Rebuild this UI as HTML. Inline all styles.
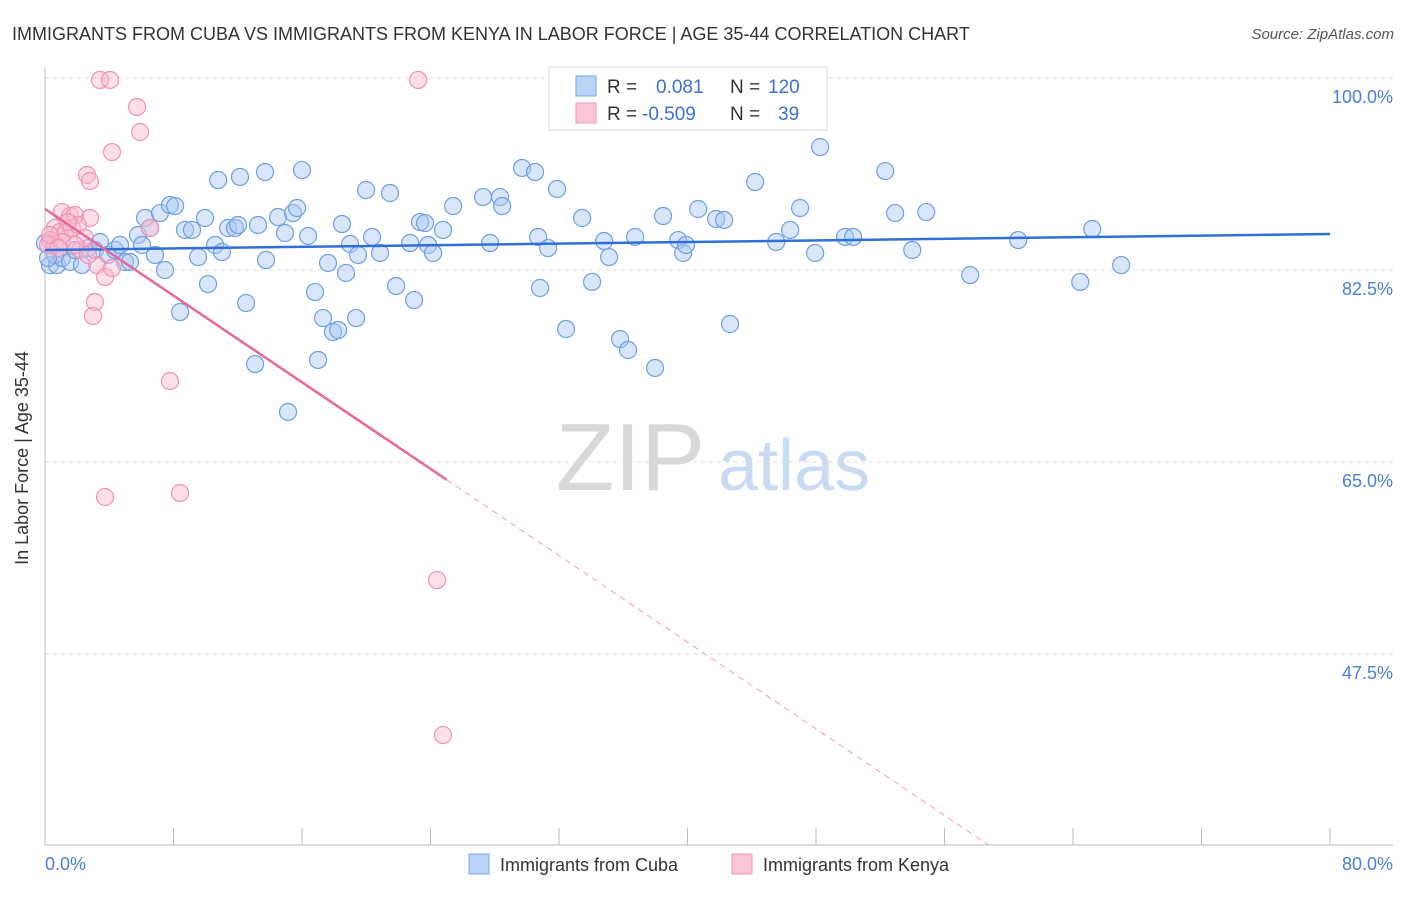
<!DOCTYPE html>
<html><head><meta charset="utf-8"><style>
body{margin:0;background:#fff;font-family:"Liberation Sans",sans-serif;}
svg text{font-family:"Liberation Sans",sans-serif;}
</style></head><body>
<svg id="chart" width="1406" height="892" xmlns="http://www.w3.org/2000/svg">
<text x="12" y="40" font-size="18" fill="#333">IMMIGRANTS FROM CUBA VS IMMIGRANTS FROM KENYA IN LABOR FORCE | AGE 35-44 CORRELATION CHART</text>
<text x="1394" y="39" font-size="15" fill="#555" font-style="italic" text-anchor="end">Source: ZipAtlas.com</text>
<text x="705" y="490" font-size="96" fill="#d8d8d8" text-anchor="end" font-family="Liberation Serif">ZIP</text>
<text x="718" y="490" font-size="72" fill="#c8dbf3">atlas</text>
<g id="grid"></g><g id="axes"></g><g id="marks"></g>
<text x="28" y="458" font-size="18" fill="#333" text-anchor="middle" transform="rotate(-90 28 458)">In Labor Force | Age 35-44</text>
<text x="45" y="870" font-size="18" fill="#4a7fd4">0.0%</text>
<text x="1393" y="870" font-size="18" fill="#4a7fd4" text-anchor="end">80.0%</text>
<g>
<rect x="549" y="67" width="278" height="63" fill="#fff" stroke="#ddd"/>
<rect x="576" y="76" width="20" height="20" fill="#b9d3f5" stroke="#7aa7e2"/>
<rect x="576" y="103" width="20" height="20" fill="#f9c6d7" stroke="#ee9ab8"/>
<text x="607" y="93" font-size="19" fill="#333">R = <tspan fill="#3a72d0" x="656">0.081</tspan><tspan x="730" fill="#333">N = </tspan><tspan fill="#3a72d0" x="768">120</tspan></text>
<text x="607" y="120" font-size="19" fill="#333">R = <tspan fill="#3a72d0" x="642">-0.509</tspan><tspan x="730" fill="#333">N = </tspan><tspan fill="#3a72d0" x="778">39</tspan></text>
</g>
<g>
<rect x="469" y="854" width="20" height="20" fill="#b9d3f5" stroke="#7aa7e2"/>
<text x="500" y="871" font-size="18" fill="#333">Immigrants from Cuba</text>
<rect x="732" y="854" width="20" height="20" fill="#f9c6d7" stroke="#ee9ab8"/>
<text x="763" y="871" font-size="18" fill="#333">Immigrants from Kenya</text>
</g>
</svg>
<script>
const yTicks=[100,82.5,65,47.5];
const yTickLabels=["100.0%","82.5%","65.0%","47.5%"];
const xTicks=[0,8,16,24,32,40,48,56,64,72,80];
const cubaX=[0.31,0.75,0.62,1.06,1.56,1.87,2.30,2.68,3.11,3.42,3.92,4.36,4.67,4.98,5.29,5.79,6.04,6.23,6.54,6.85,7.16,7.47,7.78,8.10,8.41,8.72,9.15,9.53,9.96,10.15,10.59,10.78,11.02,11.40,11.83,12.14,12.02,12.52,13.08,13.26,13.70,13.76,14.51,14.94,15.13,15.44,15.69,16.00,16.38,16.81,17.00,17.31,17.62,17.93,18.25,18.49,18.74,18.99,19.37,19.49,19.99,20.36,20.86,21.48,21.86,22.73,22.98,23.35,23.66,23.85,24.16,24.78,25.41,27.27,27.71,28.33,28.46,29.70,30.51,30.70,30.82,31.32,31.88,32.44,33.44,34.06,34.81,35.12,35.80,36.30,36.74,37.98,38.48,39.42,39.73,39.91,40.66,41.78,42.28,42.65,44.21,45.52,46.39,47.01,47.95,48.26,49.81,50.31,52.31,52.93,53.99,54.86,57.60,60.59,64.45,65.20,67.00,0.0,0.19];
const cubaY=[82.95,82.95,83.87,83.59,83.23,84.32,82.95,84.50,84.32,85.05,83.87,84.32,84.78,83.23,83.23,85.69,84.78,87.24,86.33,83.87,87.69,82.50,88.42,88.33,78.67,86.15,86.15,83.68,87.24,81.22,84.78,90.70,84.14,86.33,86.33,90.98,86.60,79.49,73.93,86.60,91.43,83.41,87.33,85.87,69.56,87.69,88.15,91.61,85.60,80.49,74.30,78.12,83.14,76.85,77.03,86.69,82.23,84.87,78.12,83.87,89.79,85.51,84.05,89.52,81.04,84.96,79.76,86.87,86.78,84.78,84.05,86.15,88.33,89.15,84.96,89.15,88.33,91.80,91.43,85.51,80.86,84.50,89.88,77.12,87.24,81.41,85.14,83.68,76.21,75.21,85.51,73.57,87.42,85.23,84.05,84.78,88.06,87.15,87.06,77.58,90.52,85.05,86.15,88.15,84.05,93.71,85.51,85.51,91.52,87.69,84.32,87.78,82.04,85.23,81.41,86.24,82.95,84.96,83.59];
const kenyaX=[3.42,4.05,23.23,5.73,5.92,4.17,2.62,2.80,1.06,1.56,1.87,2.80,0.62,0.93,1.25,1.68,2.05,0.31,0.62,0.19,1.06,2.18,2.49,3.24,3.74,4.17,3.11,2.99,6.54,7.78,3.74,8.41,24.41,24.78,0.31,1.43,0.81,2.68,1.87];
const kenyaY=[99.82,99.82,99.82,97.36,95.08,93.25,91.16,90.61,87.79,87.42,87.51,87.24,86.33,85.96,85.87,86.33,86.60,85.23,84.78,84.78,85.05,84.32,85.42,82.95,81.86,82.68,79.58,78.31,86.33,72.38,61.81,62.17,54.24,40.11,85.69,86.87,84.50,83.87,84.78];
const cubaTrend=[84.32,85.78];
const kenyaTrend=[88.06,-0.987];
const NS="http://www.w3.org/2000/svg";
const sx=v=>45+v/80*1285;
const sy=v=>78+(100-v)*192/17.5;
function mk(tag,attrs,parent){const e=document.createElementNS(NS,tag);for(const k in attrs)e.setAttribute(k,attrs[k]);document.getElementById(parent).appendChild(e);return e;}
yTicks.forEach((t,i)=>{
 const g=mk('line',{x1:45,x2:1393,y1:sy(t),y2:sy(t),stroke:'#ddd','stroke-dasharray':'4,4'},'grid');
 
 
 const l=mk('text',{x:1393,y:sy(t)+25,'font-size':18,fill:'#4a7fd4','text-anchor':'end'},'grid');
 l.textContent=yTickLabels[i];
 
 
});
const ya=mk('line',{x1:45,x2:45,y1:68,y2:845,stroke:'#bbb'},'axes');


const xa=mk('line',{x1:45,x2:1393,y1:845,y2:845,stroke:'#bbb'},'axes');


xTicks.forEach(t=>{
 const tk=mk('line',{x1:sx(t),x2:sx(t),y1:828,y2:845,stroke:'#bbb'},'axes');
 
 
});
cubaX.forEach((x,i)=>{
 const c=mk('circle',{cx:sx(x),cy:sy(cubaY[i]),r:8.5,fill:'rgba(170,200,243,0.45)',stroke:'#6e9fe0','stroke-width':1.2},'marks');
 
 
});
kenyaX.forEach((x,i)=>{
 const c=mk('circle',{cx:sx(x),cy:sy(kenyaY[i]),r:8.5,fill:'rgba(248,185,206,0.45)',stroke:'#ef92b3','stroke-width':1.2},'marks');
 
 
});
const bl=mk('line',{x1:sx(0),y1:sy(cubaTrend[0]),x2:sx(80),y2:sy(cubaTrend[1]),stroke:'#2f6fd6','stroke-width':2.5},'marks');


const kf=x=>kenyaTrend[0]+kenyaTrend[1]*x;
const kl=mk('line',{x1:sx(0),y1:sy(kf(0)),x2:sx(25),y2:sy(kf(25)),stroke:'#e8669a','stroke-width':2.5},'marks');


const xEnd=(30.1-kenyaTrend[0])/kenyaTrend[1];
const kd=mk('line',{x1:sx(25),y1:sy(kf(25)),x2:sx(xEnd),y2:sy(kf(xEnd)),stroke:'#e8a0bc','stroke-width':1,'stroke-dasharray':'6,5'},'marks');


</script>
</body></html>
